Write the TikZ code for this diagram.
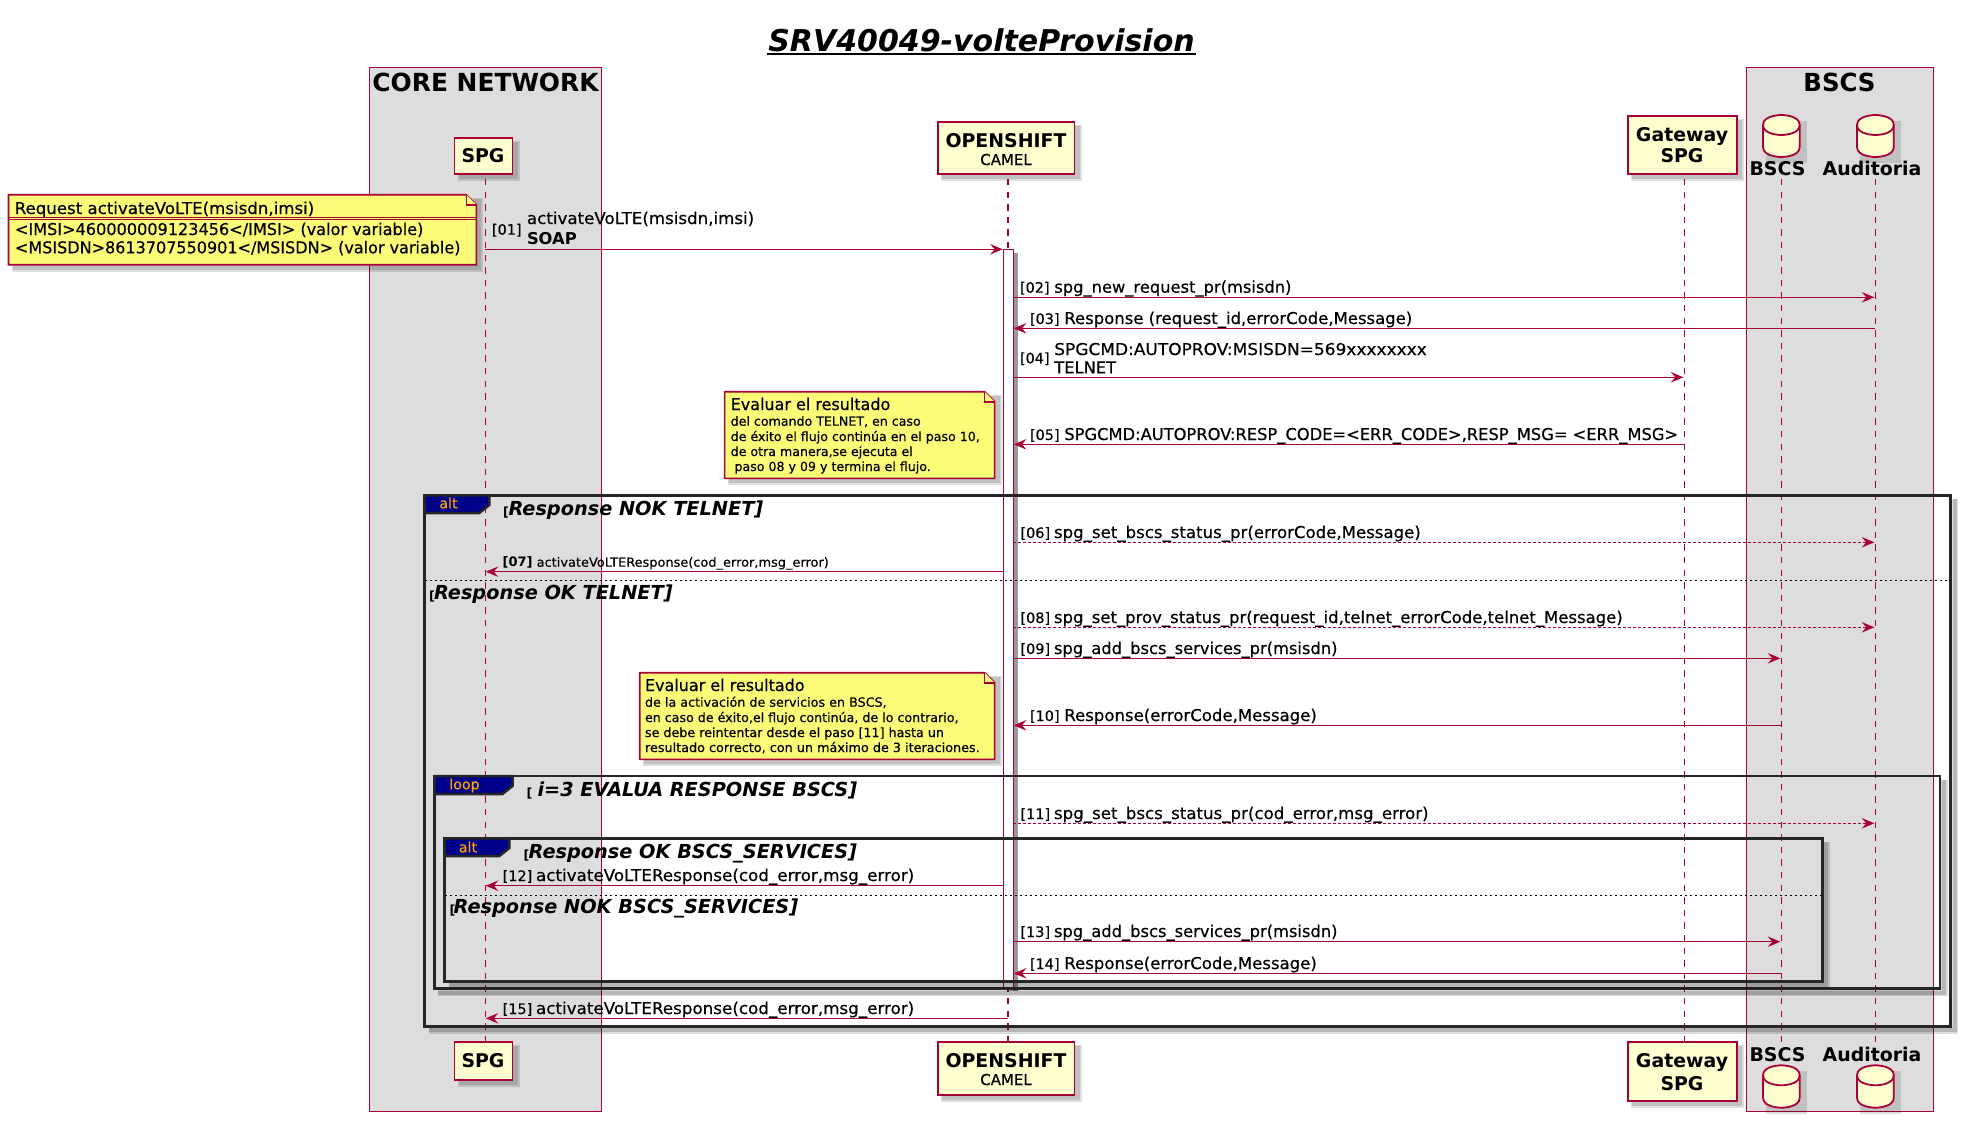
\documentclass[tikz,border=0pt]{standalone}
\usepackage{fontspec}
\setmainfont{DejaVu Sans}
\newfontfamily\rg[FakeBold=0.4]{DejaVu Sans}
\newfontfamily\bd{DejaVu Sans Bold}
\newfontfamily\bi{DejaVu Sans Bold Oblique}
\usetikzlibrary{arrows.meta}
\definecolor{umlb}{HTML}{A80036}
\definecolor{umlp}{HTML}{FEFECE}
\definecolor{umln}{HTML}{FBFB77}
\definecolor{umlg}{HTML}{DDDDDD}
\definecolor{umlt}{HTML}{00008B}
\definecolor{umlo}{HTML}{FFA500}
\newcommand{\sx}[2]{\scalebox{#1}[1]{#2}}
\tikzset{
  x=1pt,y=-1pt,
  lbl/.style={inner sep=0pt,outer sep=0pt,anchor=base west,text height=0pt,text depth=0pt},
  ctr/.style={inner sep=0pt,outer sep=0pt,anchor=base,text height=0pt,text depth=0pt},
  msgf/.style={font=\fontsize{16.3}{18}\selectfont\rg},
  smlf/.style={font=\fontsize{12.6}{15}\selectfont\rg},
  numf/.style={font=\fontsize{14.4}{18}\selectfont\rg},
  nbdf/.style={font=\fontsize{13}{18}\selectfont\bd},
  sopf/.style={font=\fontsize{16.3}{18}\selectfont\bd},
  grpf/.style={font=\fontsize{19.3}{21}\selectfont\bi},
  brkf/.style={font=\fontsize{12.6}{14}\selectfont\bd},
  tabf/.style={font=\fontsize{14.2}{16}\selectfont\rg,text=umlo},
  parf/.style={font=\fontsize{18.9}{21}\selectfont\bd},
  boxf/.style={font=\fontsize{24.9}{27}\selectfont\bd},
  camf/.style={font=\fontsize{15}{17}\selectfont\rg},
  partbox/.style={draw=umlb,fill=umlp,line width=1.8pt,inner sep=0pt},
  groupbox/.style={draw=umlb,fill=umlg,line width=1.3pt},
  lifeline/.style={draw=umlb,line width=1.3pt,dash pattern=on 6.3pt off 6.3pt},
  msgline/.style={draw=umlb,line width=1.3pt,-{Stealth[length=12.6pt,width=10.5pt,inset=4.6pt]}},
  dotline/.style={msgline,dash pattern=on 2.5pt off 2.5pt},
  framel/.style={draw=black!85,line width=2.5pt},
  sepline/.style={draw=black,line width=1.3pt,dash pattern=on 2.5pt off 2.5pt},
  notep/.style={draw=umlb,fill=umln,line width=1.6pt},
  shadowa/.style={fill=black,opacity=.13},
  shadowb/.style={fill=black,opacity=.13},
}
% drop shadow of a filled shape
\newcommand{\shbox}[4]{%
  \fill[shadowa] (#1+3,#2+3) rectangle (#3+7,#4+7);
  \fill[shadowb] (#1+4,#2+4) rectangle (#3+5,#4+5);}
% shadow of an unfilled frame: right and bottom edges
\newcommand{\shframe}[4]{%
  \draw[black,opacity=.14,line width=7pt] (#3+4,#2+4) -- (#3+4,#4+4) -- (#1+4,#4+4);
  \draw[black,opacity=.16,line width=4pt] (#3+4,#2+4) -- (#3+4,#4+4) -- (#1+4,#4+4);}
% note: x1 y1 x2 y2
\newcommand{\notebox}[4]{%
  \shbox{#1}{#2}{#3}{#4}
  \draw[notep] (#1,#2) -- (#3-10,#2) -- (#3,#2+10) -- (#3,#4) -- (#1,#4) -- cycle;
  \draw[notep,fill=umln] (#3-10,#2) -- (#3-10,#2+10) -- (#3,#2+10);}
% frame with tab: x1 y1 x2 y2 tabx taby
\newcommand{\frametab}[6]{%
  \shframe{#1}{#2}{#3}{#4}
  \draw[framel] (#1,#2) rectangle (#3,#4);
  \filldraw[framel,fill=umlt] (#1,#2) -- (#5,#2) -- (#5,#6-8) -- (#5-10,#6) -- (#1,#6) -- cycle;}
% database: x1 y1 x2 y2
\newcommand{\dbcyl}[4]{%
  \fill[shadowa] (#1+3,#2+6) rectangle (#3+7,#4+6);
  \filldraw[draw=umlb,fill=umlp,line width=1.8pt]
    (#1,#2+10) .. controls (#1,#2) and ({(#1+#3)/2},#2) .. ({(#1+#3)/2},#2)
    .. controls ({(#1+#3)/2},#2) and (#3,#2) .. (#3,#2+10)
    -- (#3,#4-10) .. controls (#3,#4) and ({(#1+#3)/2},#4) .. ({(#1+#3)/2},#4)
    .. controls ({(#1+#3)/2},#4) and (#1,#4) .. (#1,#4-10) -- cycle;
  \draw[draw=umlb,line width=1.8pt]
    (#1,#2+10) .. controls (#1,#2+20) and ({(#1+#3)/2},#2+20) .. ({(#1+#3)/2},#2+20)
    .. controls ({(#1+#3)/2},#2+20) and (#3,#2+20) .. (#3,#2+10);}
% message: id x-start x-end y style
\newcommand{\msg}[5]{%
  \coordinate (m#1a) at (#2,#4);
  \coordinate (m#1b) at (#3,#4);
  \draw[#5] (m#1a) -- (m#1b);}
% number + label: id numx textx baseline numstyle text
\newcommand{\lab}[6]{%
  \node[lbl,#5] (n#1) at (#2,#4) {[#1]};
  \node[lbl,msgf] (t#1) at (#3,#4) {#6};}
\begin{document}
\begin{tikzpicture}
\useasboundingbox (0,0) rectangle (1970,1122);
\fill[white] (0,0) rectangle (1970,1122);
% title
\node[ctr,font=\fontsize{30}{32}\selectfont\bi] (title) at (981.5,51.7) {SRV40049-volteProvision};
\coordinate (ula) at (767,54.3);
\coordinate (ulb) at (1195.5,54.3);
\draw[black,line width=1.8pt] (ula) -- (ulb);
% grey group boxes
\draw[groupbox] (369.6,67.3) rectangle (601.3,1111.3);
\draw[groupbox] (1746.3,67.3) rectangle (1933.3,1111.3);
\node[ctr,boxf] (coretitle) at (485.5,91.3) {CORE NETWORK};
\node[ctr,boxf] (bscstitle) at (1839.5,91.3) {\sx{.98}{BSCS}};
% lifelines
\coordinate (l1a) at (485.3,179); \coordinate (l1b) at (485.3,1042);
\coordinate (l2a) at (1008,179); \coordinate (l2b) at (1008,1042);
\coordinate (l3a) at (1684.4,179); \coordinate (l3b) at (1684.4,1042);
\coordinate (l4a) at (1781.3,179); \coordinate (l4b) at (1781.3,1042);
\coordinate (l5a) at (1875.3,179); \coordinate (l5b) at (1875.3,1042);
\foreach \i in {1,...,5} {\draw[lifeline] (l\i a) -- (l\i b);}
% activation bar
\fill[black,opacity=.4] (1013.4,253) rectangle (1017.5,991);
\fill[black,opacity=.3] (1007,987.3) rectangle (1017.5,991);
\draw[draw=umlb,fill=white,line width=1.3pt] (1003.6,249.3) rectangle (1013.4,987.3);
% participants (top)
\shbox{454.5}{138}{512.5}{174.3}
\node[partbox,minimum width=58pt,minimum height=36.3pt] (spgtop) at (483.5,156.2) {};
\node[ctr,parf] (spgtopt) at (483,162.7) {SPG};
\shbox{938}{122}{1074.5}{174.3}
\node[partbox,minimum width=136.5pt,minimum height=52.3pt] (ostop) at (1006.2,148.2) {};
\node[ctr,parf] (ostopt) at (1006,147) {OPENSHIFT};
\node[ctr,camf] (ostopc) at (1006,165) {CAMEL};
\shbox{1628.4}{116.3}{1736.7}{174.3}
\node[partbox,minimum width=108.3pt,minimum height=58pt] (gwtop) at (1682.5,145.3) {};
\node[ctr,parf] (gwtopt) at (1682,141) {Gateway};
\node[ctr,parf] (gwtops) at (1682,162.3) {SPG};
\dbcyl{1763}{115}{1799.7}{157}
\dbcyl{1857}{115}{1893.8}{157}
\node[ctr,parf] (bstop) at (1777.5,175) {BSCS};
\node[ctr,parf] (autop) at (1872,175) {Auditoria};
% participants (bottom)
\shbox{454.5}{1042.3}{512.5}{1079.7}
\node[partbox,minimum width=58pt,minimum height=37.4pt] (spgbot) at (483.5,1061) {};
\node[ctr,parf] (spgbott) at (483,1067.3) {SPG};
\shbox{938}{1042.3}{1074.5}{1095.3}
\node[partbox,minimum width=136.5pt,minimum height=53pt] (osbot) at (1006.2,1068.8) {};
\node[ctr,parf] (osbott) at (1006,1067.7) {OPENSHIFT};
\node[ctr,camf] (osbotc) at (1006,1085) {CAMEL};
\shbox{1628.4}{1042.3}{1736.7}{1101.3}
\node[partbox,minimum width=108.3pt,minimum height=59pt] (gwbot) at (1682.5,1071.8) {};
\node[ctr,parf] (gwbott) at (1682,1067.7) {Gateway};
\node[ctr,parf] (gwbots) at (1682,1090) {SPG};
\dbcyl{1763}{1065.3}{1799.7}{1107.7}
\dbcyl{1857}{1065.3}{1893.8}{1107.7}
\node[ctr,parf] (bsbot) at (1777.5,1061.7) {BSCS};
\node[ctr,parf] (aubot) at (1872,1061.7) {Auditoria};
% frames
\frametab{424.6}{495.3}{1950.7}{1026.3}{489.3}{513}
\frametab{434.4}{776}{1940}{988.7}{512.5}{794}
\frametab{444.6}{838.3}{1822.3}{981.3}{509.4}{856}
\coordinate (s1a) at (424.6,580.3); \coordinate (s1b) at (1950.7,580.3);
\draw[sepline] (s1a) -- (s1b);
\coordinate (s2a) at (444.6,895.3); \coordinate (s2b) at (1822.3,895.3);
\draw[sepline] (s2a) -- (s2b);
\node[ctr,tabf] (tab1) at (448.5,508.3) {alt};
\node[ctr,tabf] (tab2) at (464.5,789.3) {loop};
\node[ctr,tabf] (tab3) at (468,852.3) {alt};
\node[lbl,brkf] (b1) at (503,516.5) {[};
\node[lbl,grpf] (g1) at (508.5,515) {Response NOK TELNET]};
\node[lbl,brkf] (b2) at (429,600.8) {[};
\node[lbl,grpf] (g2) at (434,599.3) {Response OK TELNET]};
\node[lbl,brkf] (b3) at (526.5,797.5) {[};
\node[lbl,grpf] (g3) at (537.5,796) {i=3 EVALUA RESPONSE BSCS]};
\node[lbl,brkf] (b4) at (523.5,859.8) {[};
\node[lbl,grpf] (g4) at (528.6,858.3) {Response OK BSCS\_SERVICES]};
\node[lbl,brkf] (b5) at (449.5,914.8) {[};
\node[lbl,grpf] (g5) at (453.6,913.3) {Response NOK BSCS\_SERVICES]};
% messages
\msg{01}{485.3}{1002.7}{249.3}{msgline}
\msg{02}{1013.4}{1874.3}{297.3}{msgline}
\msg{03}{1875.3}{1013.8}{328.3}{msgline}
\msg{04}{1013.4}{1683.4}{377.3}{msgline}
\msg{05}{1684.4}{1013.8}{444.3}{msgline}
\msg{06}{1013.4}{1874.3}{542.3}{dotline}
\msg{07}{1003.6}{485.7}{571.7}{msgline}
\msg{08}{1013.4}{1874.3}{627.3}{dotline}
\msg{09}{1013.4}{1780.3}{658.3}{msgline}
\msg{10}{1781.3}{1013.8}{725.3}{msgline}
\msg{11}{1013.4}{1874.3}{823.3}{dotline}
\msg{12}{1003.6}{485.7}{885.7}{msgline}
\msg{13}{1013.4}{1780.3}{941.7}{msgline}
\msg{14}{1781.3}{1013.8}{973.3}{msgline}
\msg{15}{1008}{485.7}{1018.3}{msgline}
% labels
\node[lbl,numf] (n01) at (492,234.7) {[01]};
\node[lbl,msgf] (t01) at (527,224) {\sx{1.022}{activateVoLTE(msisdn,imsi)}};
\node[lbl,sopf] (t01b) at (527,244) {SOAP};
\lab{02}{1020}{1054.3}{292.7}{numf}{spg\_new\_request\_pr(msisdn)}
\lab{03}{1030}{1064.3}{324}{numf}{\sx{1.011}{Response (request\_id,errorCode,Message)}}
\node[lbl,numf] (n04) at (1020,363.3) {[04]};
\node[lbl,msgf] (t04) at (1054.3,355) {\sx{1.042}{SPGCMD:AUTOPROV:MSISDN=569xxxxxxxx}};
\node[lbl,msgf] (t04b) at (1054.3,373.3) {TELNET};
\lab{05}{1030}{1064.3}{440}{numf}{SPGCMD:AUTOPROV:RESP\_CODE=<ERR\_CODE>,RESP\_MSG= <ERR\_MSG>}
\lab{06}{1020.5}{1054}{538}{numf}{\sx{1.017}{spg\_set\_bscs\_status\_pr(errorCode,Message)}}
\node[lbl,nbdf] (n07) at (502.7,566.7) {[07]};
\node[lbl,smlf] (t07) at (536.7,566.7) {\sx{1.026}{activateVoLTEResponse(cod\_error,msg\_error)}};
\lab{08}{1020.5}{1054}{623}{numf}{\sx{1.011}{spg\_set\_prov\_status\_pr(request\_id,telnet\_errorCode,telnet\_Message)}}
\lab{09}{1020.5}{1054}{654}{numf}{spg\_add\_bscs\_services\_pr(msisdn)}
\lab{10}{1030}{1064.3}{721}{numf}{\sx{1.015}{Response(errorCode,Message)}}
\lab{11}{1020.5}{1054}{819}{numf}{\sx{1.02}{spg\_set\_bscs\_status\_pr(cod\_error,msg\_error)}}
\lab{12}{502.7}{536}{881}{numf}{\sx{1.027}{activateVoLTEResponse(cod\_error,msg\_error)}}
\lab{13}{1020.5}{1054}{937}{numf}{spg\_add\_bscs\_services\_pr(msisdn)}
\lab{14}{1030}{1064.3}{969}{numf}{\sx{1.015}{Response(errorCode,Message)}}
\lab{15}{502.7}{536}{1014}{numf}{\sx{1.027}{activateVoLTEResponse(cod\_error,msg\_error)}}
% notes
\notebox{8.5}{194.7}{476.3}{264.7}
\coordinate (na1) at (8.5,217.2); \coordinate (na2) at (476.3,217.2);
\coordinate (nb1) at (8.5,219.6); \coordinate (nb2) at (476.3,219.6);
\draw[draw=umlb,line width=1pt] (na1) -- (na2);
\draw[draw=umlb,line width=1pt] (nb1) -- (nb2);
\node[lbl,msgf] (n1a) at (14.7,214) {\sx{1.02}{Request activateVoLTE(msisdn,imsi)}};
\node[lbl,msgf] (n1b) at (15,235) {\sx{.988}{<IMSI>460000009123456</IMSI> (valor variable)}};
\node[lbl,msgf] (n1c) at (15,253.3) {\sx{.983}{<MSISDN>8613707550901</MSISDN> (valor variable)}};
\notebox{724.6}{391.7}{994.6}{478.3}
\node[lbl,msgf] (n2a) at (730.7,410) {\sx{.98}{Evaluar el resultado}};
\node[lbl,smlf] (n2b) at (730.7,425.7) {del comando TELNET, en caso};
\node[lbl,smlf] (n2c) at (730.7,441) {de éxito el flujo continúa en el paso 10,};
\node[lbl,smlf] (n2d) at (730.7,456) {de otra manera,se ejecuta el};
\node[lbl,smlf] (n2e) at (734.5,471) {paso 08 y 09 y termina el flujo.};
\notebox{639.7}{672.7}{994.6}{759.3}
\node[lbl,msgf] (n3a) at (645,691) {\sx{.98}{Evaluar el resultado}};
\node[lbl,smlf] (n3b) at (645,706.7) {\sx{1.01}{de la activación de servicios en BSCS,}};
\node[lbl,smlf] (n3c) at (645,722) {\sx{1.003}{en caso de éxito,el flujo continúa, de lo contrario,}};
\node[lbl,smlf] (n3d) at (645,737) {\sx{1.008}{se debe reintentar desde el paso [11] hasta un}};
\node[lbl,smlf] (n3e) at (645,752) {\sx{1.015}{resultado correcto, con un máximo de 3 iteraciones.}};
\end{tikzpicture}
\end{document}
